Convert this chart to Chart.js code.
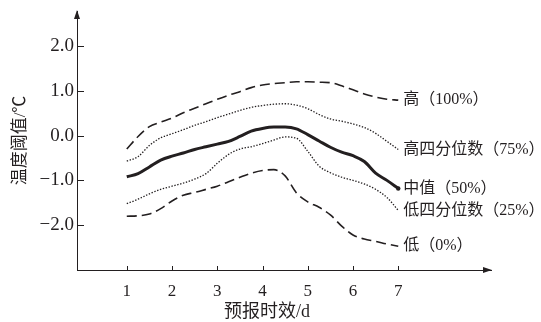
<!DOCTYPE html>
<html>
<head>
<meta charset="utf-8">
<script src="https://cdn.jsdelivr.net/npm/chart.js@4.4.1/dist/chart.umd.min.js"></script>
<style>
  html, body { margin: 0; padding: 0; background: #fff; }
  #wrap { width: 541px; height: 322px; }
</style>
</head>
<body>
<div id="wrap"><canvas id="c" width="541" height="322"></canvas></div>
<script>
// Forecast lead time (days)
const days = [1, 1.25, 1.5, 1.75, 2, 2.25, 2.5, 2.75, 3, 3.25, 3.5, 3.75, 4,
              4.25, 4.5, 4.75, 5, 5.25, 5.5, 5.75, 6, 6.25, 6.5, 6.75, 7];

// Temperature threshold percentiles (°C)
const high = [-0.30, -0.02, 0.20, 0.30, 0.39, 0.51, 0.61, 0.71, 0.81, 0.90, 0.98, 1.07, 1.13,
              1.16, 1.18, 1.20, 1.20, 1.19, 1.18, 1.11, 1.02, 0.93, 0.86, 0.81, 0.79];
const upperQuartile = [-0.57, -0.47, -0.22, -0.05, 0.04, 0.13, 0.23, 0.31, 0.40, 0.48, 0.56, 0.63, 0.67,
              0.70, 0.71, 0.68, 0.60, 0.47, 0.37, 0.32, 0.26, 0.18, 0.05, -0.13, -0.31];
const median = [-0.92, -0.85, -0.70, -0.55, -0.46, -0.39, -0.31, -0.25, -0.19, -0.13, -0.02, 0.10, 0.16,
              0.19, 0.19, 0.15, 0.02, -0.12, -0.26, -0.37, -0.45, -0.58, -0.84, -1.00, -1.18];
const lowerQuartile = [-1.52, -1.42, -1.30, -1.20, -1.13, -1.06, -0.97, -0.85, -0.62, -0.42, -0.30, -0.25, -0.18,
              -0.10, -0.03, -0.06, -0.35, -0.68, -0.83, -0.93, -1.00, -1.08, -1.20, -1.38, -1.67];
const low = [-1.80, -1.79, -1.75, -1.63, -1.46, -1.33, -1.27, -1.20, -1.13, -1.03, -0.93, -0.84, -0.78,
              -0.76, -0.90, -1.28, -1.48, -1.60, -1.77, -2.02, -2.22, -2.31, -2.36, -2.42, -2.47];

const seriesLabels = ['高（100%）', '高四分位数（75%）', '中值（50%）', '低四分位数（25%）', '低（0%）'];
const xTicks = [1, 2, 3, 4, 5, 6, 7];
const yTicks = [-2, -1, 0, 1, 2];
const xTitle = '预报时效/d';
const yTitle = '温度阈值/℃';

const INK = '#231f20';
const SERIF = '"Liberation Serif", "DejaVu Serif", "Noto Sans CJK SC", serif';
const CJK = '"Liberation Serif", "Noto Sans CJK SC", sans-serif';

const toPoints = arr => arr.map((v, i) => ({ x: days[i], y: v }));

const dashed = [10, 5];
const dotted = [1.4, 1.6];

function makeSet(label, values, width, dash) {
  return {
    label, data: toPoints(values),
    borderColor: INK, borderWidth: width, borderDash: dash,
    pointRadius: 0, fill: false, tension: 0.4, cubicInterpolationMode: 'monotone'
  };
}

// Axis arrows, inward tick marks, x-axis title and end-of-line labels
const decorations = {
  id: 'decorations',
  afterDraw(chart) {
    const { ctx, chartArea: a, scales: { x, y } } = chart;
    ctx.save();
    ctx.strokeStyle = INK;
    ctx.fillStyle = INK;
    ctx.lineWidth = 1;
    // inward ticks
    ctx.beginPath();
    yTicks.forEach(v => {
      const py = Math.round(y.getPixelForValue(v)) + 0.5;
      ctx.moveTo(a.left, py); ctx.lineTo(a.left + 7, py);
    });
    xTicks.forEach(v => {
      const px = Math.round(x.getPixelForValue(v)) + 0.5;
      ctx.moveTo(px, a.bottom); ctx.lineTo(px, a.bottom - 4);
    });
    ctx.stroke();
    // arrow heads
    const ax = a.left, ay = a.top;
    ctx.beginPath();
    ctx.moveTo(ax, ay - 1); ctx.lineTo(ax - 3, ay + 8); ctx.lineTo(ax + 3, ay + 8); ctx.closePath();
    ctx.fill();
    const bx = a.right, by = a.bottom;
    ctx.beginPath();
    ctx.moveTo(bx + 1, by); ctx.lineTo(bx - 8, by - 3); ctx.lineTo(bx - 8, by + 3); ctx.closePath();
    ctx.fill();
    // x-axis title, centred under the labelled day range
    ctx.font = '18px ' + CJK;
    ctx.textAlign = 'center';
    ctx.textBaseline = 'middle';
    ctx.fillText(xTitle, x.getPixelForValue(4.1), 312);
    // line-end labels
    ctx.font = '16px ' + CJK;
    ctx.textAlign = 'left';
    chart.data.datasets.forEach((ds, i) => {
      const pts = chart.getDatasetMeta(i).data;
      const last = pts[pts.length - 1];
      ctx.fillText(ds.label, last.x + 5, last.y);
    });
    // small end cap on the median line
    const mpts = chart.getDatasetMeta(2).data;
    const m = mpts[mpts.length - 1];
    ctx.beginPath();
    ctx.arc(m.x, m.y, 2.2, 0, Math.PI * 2);
    ctx.fill();
    ctx.restore();
  }
};

new Chart(document.getElementById('c'), {
  type: 'line',
  data: {
    datasets: [
      makeSet(seriesLabels[0], high, 1.6, dashed),
      makeSet(seriesLabels[1], upperQuartile, 1.3, dotted),
      makeSet(seriesLabels[2], median, 3, []),
      makeSet(seriesLabels[3], lowerQuartile, 1.3, dotted),
      makeSet(seriesLabels[4], low, 1.6, dashed)
    ]
  },
  options: {
    responsive: false,
    animation: false,
    devicePixelRatio: 1,
    layout: { padding: { top: 11, right: 50, left: 0, bottom: 0 } },
    plugins: { legend: { display: false }, tooltip: { enabled: false } },
    scales: {
      x: {
        type: 'linear', min: -0.1, max: 9.05,
        afterBuildTicks: s => { s.ticks = xTicks.map(v => ({ value: v })); },
        afterFit: s => { s.height = 52; },
        grid: { display: false },
        border: { display: true, color: INK, width: 1 },
        ticks: { color: INK, font: { family: SERIF, size: 17 }, padding: 3, maxRotation: 0, autoSkip: false }
      },
      y: {
        type: 'linear', min: -3, max: 2.78,
        afterBuildTicks: s => { s.ticks = yTicks.map(v => ({ value: v })); },
        afterFit: s => { s.width = 77; },
        grid: { display: false },
        border: { display: true, color: INK, width: 1 },
        ticks: {
          color: INK, font: { family: SERIF, size: 19 }, padding: -5,
          callback: v => v.toFixed(1).replace('-', '−')
        },
        title: { display: true, text: yTitle, color: INK, font: { family: CJK, size: 17 }, padding: { top: 10, bottom: 0 } }
      }
    }
  },
  plugins: [decorations]
});
</script>
</body>
</html>
